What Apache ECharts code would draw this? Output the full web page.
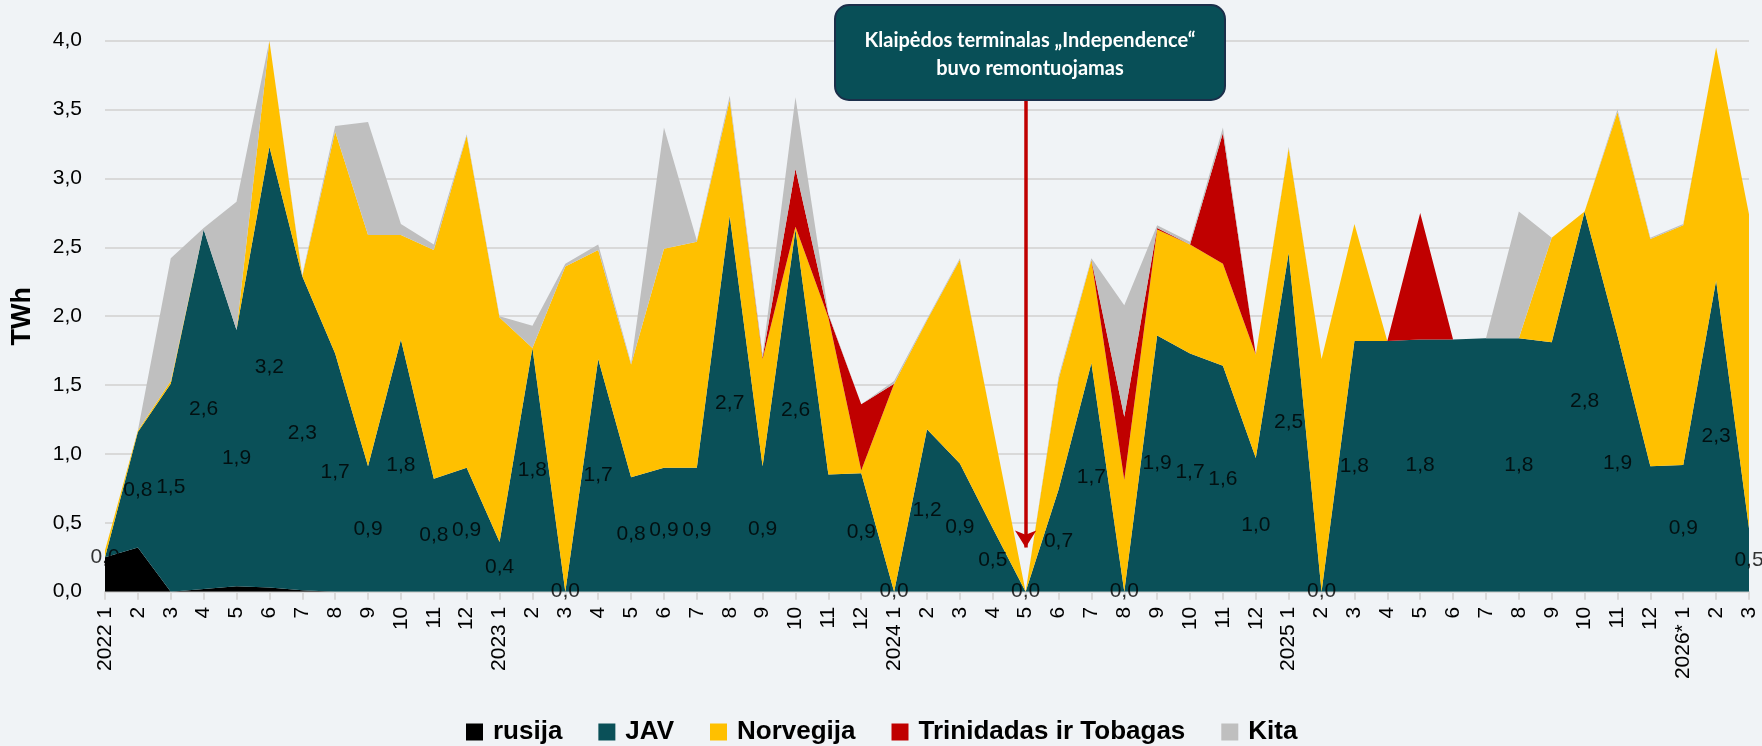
<!DOCTYPE html>
<html>
<head>
<meta charset="utf-8">
<script src="https://cdn.jsdelivr.net/npm/echarts@6/dist/echarts.min.js"></script>
<style>
  html, body { margin: 0; padding: 0; background: #F0F3F6; }
  #chart { width: 1762px; height: 746px; }
</style>
</head>
<body>
<div id="chart"></div>
<script>
// tick labels (months, year on January)
var categories = [
  '2022 1', '2', '3', '4', '5', '6', '7', '8', '9', '10', '11', '12',
  '2023 1', '2', '3', '4', '5', '6', '7', '8', '9', '10', '11', '12',
  '2024 1', '2', '3', '4', '5', '6', '7', '8', '9', '10', '11', '12',
  '2025 1', '2', '3', '4', '5', '6', '7', '8', '9', '10', '11', '12',
  '2026* 1', '2', '3'
]

// TWh per month
var rusija = [0.25, 0.32, 0.00, 0.02, 0.04, 0.03, 0.01, 0, 0, 0, 0, 0,
  0, 0, 0, 0, 0, 0, 0, 0, 0, 0, 0, 0,
  0, 0, 0, 0, 0, 0, 0, 0, 0, 0, 0, 0,
  0, 0, 0, 0, 0, 0, 0, 0, 0, 0, 0, 0,
  0, 0, 0]
var jav = [0.00, 0.84, 1.51, 2.61, 1.86, 3.20, 2.28, 1.73, 0.91, 1.83, 0.82, 0.90,
  0.36, 1.77, 0.00, 1.69, 0.83, 0.90, 0.90, 2.73, 0.91, 2.63, 0.85, 0.86,
  0.00, 1.18, 0.93, 0.46, 0.00, 0.74, 1.66, 0.00, 1.86, 1.73, 1.64, 0.97,
  2.46, 0.00, 1.82, 1.82, 1.83, 1.83, 1.84, 1.84, 1.81, 2.76, 1.86, 0.91,
  0.92, 2.26, 0.46]
var norvegija = [0.05, 0.01, 0.02, 0.00, 0.00, 0.77, 0.00, 1.61, 1.68, 0.76, 1.66, 2.41,
  1.63, 0.00, 2.36, 0.79, 0.82, 1.59, 1.64, 0.84, 0.78, 0.02, 1.14, 0.02,
  1.51, 0.79, 1.48, 0.74, 0.00, 0.80, 0.75, 0.81, 0.77, 0.79, 0.74, 0.75,
  0.76, 1.69, 0.85, 0.00, 0.00, 0.00, 0.00, 0.00, 0.76, 0.00, 1.62, 1.65,
  1.74, 1.69, 2.28]
var trinidadas = [0, 0, 0, 0, 0, 0, 0, 0, 0, 0, 0, 0,
  0, 0, 0, 0, 0, 0, 0, 0, 0.01, 0.42, 0.02, 0.48,
  0, 0, 0, 0, 0, 0, 0, 0.46, 0.01, 0, 0.95, 0,
  0, 0, 0, 0, 0.92, 0, 0, 0, 0, 0, 0, 0,
  0, 0, 0]
var kita = [0, 0, 0.89, 0.01, 0.93, 0.00, 0.01, 0.04, 0.82, 0.08, 0.04, 0.01,
  0.01, 0.16, 0.02, 0.04, 0.01, 0.88, 0.01, 0.03, 0.02, 0.52, 0.01, 0.00,
  0.02, 0.01, 0.01, 0, 0, 0.02, 0.01, 0.81, 0.02, 0.02, 0.04, 0.00,
  0.01, 0, 0, 0, 0, 0, 0, 0.92, 0.00, 0, 0.02, 0.01,
  0.01, 0, 0]
// months where the JAV value label is not shown
var hiddenLabels = [22, 39, 41, 42, 44, 47]

var seriesNames = ['rusija', 'JAV', 'Norvegija', 'Trinidadas ir Tobagas', 'Kita']
var seriesColors = ['#000000', '#0A5058', '#FFC000', '#C00000', '#BFBFBF']
var seriesData = [rusija, jav, norvegija, trinidadas, kita]

var fmt = function (v) {
  return v.toFixed(1).replace('.', ',')
}

var chart = echarts.init(document.getElementById('chart'))

var series = seriesData.map(function (d, k) {
  return {
    name: seriesNames[k],
    type: 'line',
    stack: 'total',
    data: d,
    showSymbol: false,
    symbol: 'none',
    lineStyle: { width: 0 },
    areaStyle: { color: seriesColors[k], opacity: 1 },
    itemStyle: { color: seriesColors[k] },
    z: 2
  }
})

// JAV labels sit in the middle of the JAV band
var labelData = jav.map(function (v, i) {
  return {
    value: [i, rusija[i] + v / 2],
    label: { show: hiddenLabels.indexOf(i) < 0 }
  }
})
series.push({
  name: 'labels',
  type: 'scatter',
  data: labelData,
  symbolSize: 1,
  itemStyle: { color: 'rgba(0,0,0,0)' },
  silent: true,
  z: 5,
  label: {
    position: 'inside',
    color: '#000',
    fontFamily: 'Liberation Sans',
    fontSize: 21,
    formatter: function (p) { return fmt(jav[p.dataIndex]) }
  }
})

// repair arrow at 2024 5
series[4].markLine = {
  silent: true,
  symbol: ['none', 'arrow'],
  symbolSize: [16, 17],
  label: { show: false },
  lineStyle: { color: '#C00000', width: 3.5, type: 'solid' },
  data: [[{ coord: [28, 3.58] }, { coord: [28, 0.32] }]]
}

var option = {
  backgroundColor: '#F0F3F6',
  animation: false,
  grid: { left: 105, right: 13, top: 40.7, bottom: 154.3 },
  legend: {
    data: seriesNames,
    left: 461,
    top: 714,
    icon: 'rect',
    itemWidth: 17,
    itemHeight: 17,
    itemGap: 36,
    textStyle: {
      fontFamily: 'Liberation Sans',
      fontWeight: 'bold',
      fontSize: 26,
      color: '#000',
      padding: [0, 0, 0, 5]
    }
  },
  xAxis: {
    type: 'category',
    boundaryGap: false,
    data: categories,
    axisLine: { lineStyle: { color: '#D9D9D9', width: 2 } },
    axisTick: { show: true, interval: 0, length: 8, lineStyle: { color: '#D9D9D9', width: 2 } },
    axisLabel: {
      interval: 0,
      rotate: 90,
      margin: 15,
      color: '#000',
      fontFamily: 'Liberation Sans',
      fontSize: 21
    }
  },
  yAxis: {
    type: 'value',
    min: 0,
    max: 4,
    interval: 0.5,
    name: 'TWh',
    nameLocation: 'middle',
    nameGap: 69,
    nameTextStyle: { fontFamily: 'Liberation Sans', fontWeight: 'bold', fontSize: 27, color: '#000' },
    axisLine: { show: false },
    axisTick: { show: false },
    splitLine: { lineStyle: { color: '#D9D9D9', width: 2 } },
    axisLabel: {
      margin: 23,
      color: '#000',
      fontFamily: 'Liberation Sans',
      fontSize: 21,
      formatter: fmt
    }
  },
  graphic: [{
    type: 'group',
    left: 834,
    top: 4,
    z: 100,
    children: [{
      type: 'rect',
      z: 100,
      shape: { x: 0, y: 0, width: 390, height: 95, r: 14 },
      style: { fill: '#084F57', stroke: '#1B2F4A', lineWidth: 2 }
    }, {
      type: 'text',
      z: 101,
      x: 195,
      y: 50,
      style: {
        text: 'Klaipėdos terminalas „Independence“\nbuvo remontuojamas',
        fill: '#fff',
        font: 'bold 20px Lato',
        align: 'center',
        verticalAlign: 'middle',
        lineHeight: 28
      }
    }]
  }],
  series: series
}

chart.setOption(option)
</script>
</body>
</html>
